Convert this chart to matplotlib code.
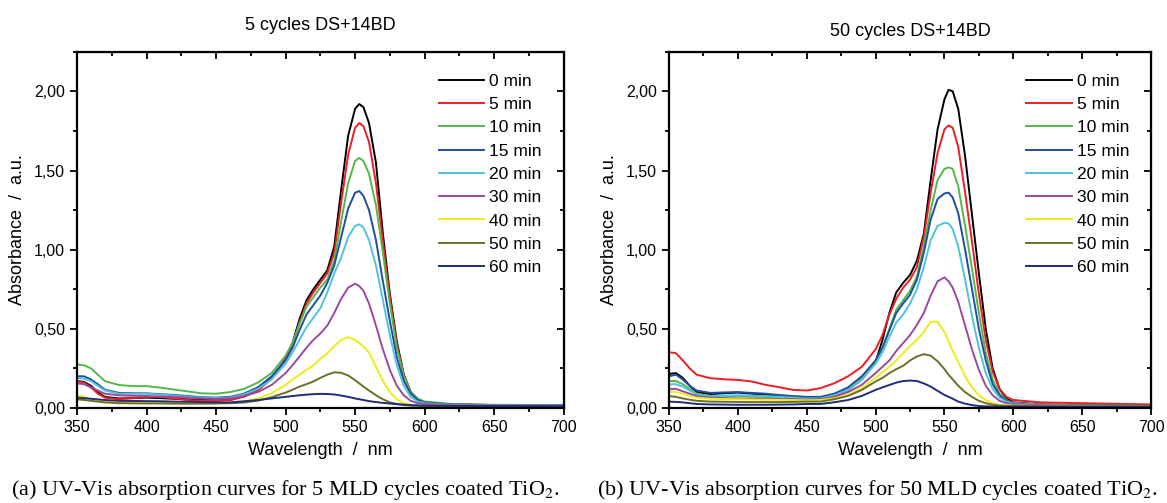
import matplotlib.pyplot as plt
from matplotlib.ticker import MultipleLocator, FuncFormatter

plt.rcParams['font.family'] = ['Liberation Sans', 'DejaVu Sans']
plt.rcParams['mathtext.fontset'] = 'stix'

wavelength = [350, 355, 360, 365, 370, 380, 390, 400, 410, 420, 430, 440, 450,
              460, 470, 480, 490, 500, 505, 510, 515, 520, 525, 530, 535, 540,
              545, 550, 553, 556, 560, 565, 570, 575, 580, 585, 590, 595, 600,
              620, 650, 700]

labels = ["0 min", "5 min", "10 min", "15 min", "20 min", "30 min", "40 min", "50 min", "60 min"]
colors = ["#000000", "#ee1c24", "#52b848", "#1f4ea3", "#4fc3d9", "#9a4a9e", "#ecec18", "#6e6e2a", "#1e2f78"]

# 5 cycles DS+14BD
a5_0 = [0.17, 0.165, 0.14, 0.10, 0.07, 0.06, 0.062, 0.065, 0.062, 0.058, 0.054, 0.05, 0.048,
        0.05, 0.075, 0.114, 0.19, 0.31, 0.41, 0.56, 0.68, 0.75, 0.81, 0.87, 1.02, 1.38,
        1.72, 1.89, 1.92, 1.90, 1.80, 1.55, 1.10, 0.72, 0.42, 0.21, 0.10, 0.05, 0.035,
        0.022, 0.018, 0.015]
a5_5 = [0.17, 0.16, 0.13, 0.09, 0.065, 0.055, 0.062, 0.07, 0.07, 0.06, 0.05, 0.045, 0.045,
        0.05, 0.07, 0.11, 0.185, 0.31, 0.40, 0.54, 0.66, 0.73, 0.79, 0.85, 0.98, 1.30,
        1.60, 1.77, 1.80, 1.78, 1.68, 1.42, 1.05, 0.70, 0.40, 0.21, 0.10, 0.055, 0.035,
        0.022, 0.018, 0.015]
a5_10 = [0.275, 0.27, 0.25, 0.21, 0.17, 0.145, 0.138, 0.138, 0.128, 0.116, 0.104, 0.092, 0.09,
         0.10, 0.12, 0.16, 0.22, 0.33, 0.41, 0.53, 0.64, 0.70, 0.76, 0.81, 0.93, 1.18,
         1.42, 1.56, 1.58, 1.56, 1.48, 1.28, 0.98, 0.66, 0.38, 0.20, 0.10, 0.06, 0.04,
         0.025, 0.02, 0.017]
a5_15 = [0.20, 0.20, 0.18, 0.15, 0.115, 0.095, 0.093, 0.092, 0.087, 0.082, 0.075, 0.068, 0.065,
         0.07, 0.09, 0.13, 0.20, 0.30, 0.38, 0.49, 0.59, 0.65, 0.71, 0.79, 0.90, 1.08,
         1.26, 1.36, 1.37, 1.34, 1.25, 1.06, 0.80, 0.55, 0.32, 0.17, 0.09, 0.05, 0.035,
         0.022, 0.018, 0.015]
a5_20 = [0.19, 0.185, 0.17, 0.14, 0.11, 0.09, 0.09, 0.09, 0.084, 0.078, 0.071, 0.065, 0.062,
         0.065, 0.085, 0.12, 0.18, 0.28, 0.35, 0.43, 0.51, 0.57, 0.63, 0.73, 0.85, 0.95,
         1.08, 1.15, 1.16, 1.14, 1.06, 0.90, 0.68, 0.46, 0.27, 0.14, 0.07, 0.04, 0.03,
         0.02, 0.017, 0.014]
a5_30 = [0.155, 0.15, 0.13, 0.11, 0.09, 0.08, 0.077, 0.075, 0.072, 0.07, 0.065, 0.06, 0.058,
         0.06, 0.075, 0.10, 0.145, 0.22, 0.27, 0.325, 0.38, 0.43, 0.47, 0.52, 0.60, 0.69,
         0.76, 0.785, 0.77, 0.74, 0.66, 0.52, 0.37, 0.24, 0.14, 0.08, 0.045, 0.03, 0.025,
         0.018, 0.015, 0.013]
a5_40 = [0.08, 0.07, 0.055, 0.045, 0.04, 0.035, 0.034, 0.033, 0.032, 0.03, 0.03, 0.03, 0.03,
         0.032, 0.04, 0.06, 0.093, 0.145, 0.18, 0.21, 0.24, 0.27, 0.31, 0.346, 0.39, 0.43,
         0.447, 0.43, 0.41, 0.39, 0.35, 0.26, 0.17, 0.10, 0.055, 0.03, 0.02, 0.017, 0.015,
         0.013, 0.012, 0.011]
a5_50 = [0.055, 0.05, 0.045, 0.04, 0.035, 0.03, 0.029, 0.028, 0.028, 0.027, 0.027, 0.027, 0.028,
         0.03, 0.034, 0.046, 0.068, 0.097, 0.115, 0.135, 0.15, 0.167, 0.19, 0.21, 0.225, 0.222,
         0.205, 0.175, 0.155, 0.135, 0.11, 0.08, 0.055, 0.035, 0.025, 0.018, 0.015, 0.013, 0.012,
         0.011, 0.01, 0.01]
a5_60 = [0.065, 0.062, 0.058, 0.054, 0.05, 0.045, 0.044, 0.043, 0.042, 0.04, 0.039, 0.037, 0.035,
         0.035, 0.042, 0.05, 0.06, 0.07, 0.075, 0.08, 0.084, 0.087, 0.089, 0.088, 0.085, 0.078,
         0.07, 0.06, 0.055, 0.05, 0.043, 0.037, 0.032, 0.028, 0.024, 0.021, 0.018, 0.016, 0.015,
         0.013, 0.012, 0.011]

# 50 cycles DS+14BD
a50_0 = [0.215, 0.22, 0.19, 0.14, 0.10, 0.087, 0.093, 0.097, 0.09, 0.082, 0.074, 0.066, 0.063,
         0.065, 0.08, 0.115, 0.18, 0.29, 0.43, 0.60, 0.73, 0.79, 0.84, 0.93, 1.10, 1.44,
         1.76, 1.95, 2.01, 2.00, 1.89, 1.59, 1.22, 0.85, 0.50, 0.25, 0.12, 0.06, 0.035,
         0.022, 0.018, 0.015]
a50_5 = [0.352, 0.346, 0.30, 0.25, 0.21, 0.188, 0.181, 0.177, 0.167, 0.146, 0.131, 0.114, 0.11,
         0.125, 0.156, 0.20, 0.26, 0.37, 0.46, 0.59, 0.69, 0.76, 0.81, 0.89, 1.08, 1.36,
         1.61, 1.76, 1.785, 1.77, 1.65, 1.36, 1.05, 0.72, 0.43, 0.23, 0.12, 0.07, 0.05,
         0.035, 0.03, 0.022]
a50_10 = [0.17, 0.17, 0.15, 0.12, 0.09, 0.075, 0.075, 0.075, 0.072, 0.07, 0.065, 0.06, 0.058,
          0.06, 0.08, 0.12, 0.19, 0.30, 0.38, 0.50, 0.62, 0.68, 0.74, 0.83, 1.02, 1.25,
          1.44, 1.51, 1.52, 1.51, 1.40, 1.15, 0.88, 0.60, 0.35, 0.18, 0.09, 0.05, 0.03,
          0.02, 0.016, 0.013]
a50_15 = [0.20, 0.21, 0.18, 0.14, 0.11, 0.095, 0.098, 0.10, 0.095, 0.09, 0.082, 0.075, 0.07,
          0.07, 0.09, 0.13, 0.20, 0.30, 0.38, 0.49, 0.60, 0.66, 0.715, 0.81, 0.98, 1.19,
          1.32, 1.355, 1.36, 1.33, 1.23, 1.00, 0.75, 0.50, 0.30, 0.15, 0.08, 0.045, 0.03,
          0.02, 0.016, 0.013]
a50_20 = [0.15, 0.15, 0.135, 0.11, 0.085, 0.075, 0.078, 0.08, 0.078, 0.075, 0.07, 0.065, 0.06,
          0.06, 0.08, 0.115, 0.18, 0.28, 0.35, 0.45, 0.54, 0.59, 0.66, 0.75, 0.89, 1.06,
          1.15, 1.17, 1.165, 1.13, 1.02, 0.81, 0.58, 0.38, 0.22, 0.12, 0.065, 0.04, 0.03,
          0.02, 0.015, 0.012]
a50_30 = [0.12, 0.12, 0.105, 0.09, 0.075, 0.065, 0.062, 0.06, 0.059, 0.058, 0.056, 0.055, 0.052,
          0.055, 0.07, 0.10, 0.146, 0.22, 0.26, 0.30, 0.36, 0.41, 0.46, 0.525, 0.60, 0.71,
          0.80, 0.825, 0.80, 0.76, 0.67, 0.52, 0.37, 0.24, 0.14, 0.08, 0.045, 0.03, 0.025,
          0.018, 0.014, 0.012]
a50_40 = [0.105, 0.10, 0.09, 0.075, 0.065, 0.058, 0.056, 0.055, 0.053, 0.052, 0.051, 0.05, 0.048,
          0.05, 0.061, 0.082, 0.125, 0.19, 0.225, 0.26, 0.30, 0.346, 0.39, 0.43, 0.48, 0.545,
          0.545, 0.48, 0.42, 0.36, 0.29, 0.20, 0.13, 0.08, 0.05, 0.03, 0.02, 0.016, 0.015,
          0.013, 0.012, 0.011]
a50_50 = [0.075, 0.07, 0.06, 0.052, 0.045, 0.04, 0.039, 0.038, 0.037, 0.037, 0.037, 0.038, 0.04,
          0.04, 0.055, 0.076, 0.114, 0.167, 0.19, 0.22, 0.245, 0.266, 0.30, 0.325, 0.34, 0.33,
          0.295, 0.245, 0.21, 0.18, 0.14, 0.10, 0.07, 0.045, 0.03, 0.02, 0.015, 0.013, 0.012,
          0.011, 0.01, 0.01]
a50_60 = [0.04, 0.038, 0.035, 0.03, 0.025, 0.022, 0.021, 0.02, 0.02, 0.02, 0.021, 0.022, 0.025,
          0.025, 0.036, 0.05, 0.076, 0.114, 0.13, 0.145, 0.16, 0.17, 0.173, 0.17, 0.155, 0.135,
          0.108, 0.082, 0.07, 0.058, 0.04, 0.027, 0.018, 0.012, 0.01, 0.009, 0.008, 0.008, 0.008,
          0.008, 0.008, 0.008]

panels = [
    ("5 cycles DS+14BD", [a5_0, a5_5, a5_10, a5_15, a5_20, a5_30, a5_40, a5_50, a5_60],
     "(a) UV-Vis absorption curves for 5 MLD cycles coated TiO$_2$.", 16, 0.244),
    ("50 cycles DS+14BD", [a50_0, a50_5, a50_10, a50_15, a50_20, a50_30, a50_40, a50_50, a50_60],
     "(b) UV-Vis absorption curves for 50 MLD cycles coated TiO$_2$.", 11.5, 0.752),
]

fig = plt.figure(figsize=(11.67, 5.03), dpi=100)
rects = [[0.066, 0.189, 0.417, 0.708], [0.5733, 0.189, 0.413, 0.708]]

comma = FuncFormatter(lambda v, p: f"{v:.2f}".replace(".", ","))

for rect, (title, series, caption, tpad, capx) in zip(rects, panels):
    ax = fig.add_axes(rect)
    for vals, lab, col in zip(series, labels, colors):
        ax.plot(wavelength, vals, color=col, lw=1.4, label=lab, solid_joinstyle="round")
    ax.set_xlim(350, 700)
    ax.set_ylim(0, 2.25)
    ax.xaxis.set_major_locator(MultipleLocator(50))
    ax.xaxis.set_minor_locator(MultipleLocator(25))
    ax.yaxis.set_major_locator(MultipleLocator(0.5))
    ax.yaxis.set_minor_locator(MultipleLocator(0.25))
    ax.yaxis.set_major_formatter(comma)
    ax.tick_params(which="both", direction="out", width=1.3, labelsize=11.5)
    ax.tick_params(which="major", length=5)
    ax.tick_params(which="minor", length=3)
    for s in ax.spines.values():
        s.set_linewidth(1.6)

    top = ax.secondary_xaxis("top")
    top.xaxis.set_major_locator(MultipleLocator(50))
    top.xaxis.set_minor_locator(MultipleLocator(25))
    top.tick_params(which="both", direction="in", width=1.3, labeltop=False)
    top.tick_params(which="major", length=5)
    top.tick_params(which="minor", length=3)
    right = ax.secondary_yaxis("right")
    right.yaxis.set_major_locator(MultipleLocator(0.5))
    right.yaxis.set_minor_locator(MultipleLocator(0.25))
    right.tick_params(which="both", direction="in", width=1.3, labelright=False)
    right.tick_params(which="major", length=5)
    right.tick_params(which="minor", length=3)

    ax.set_xlabel("Wavelength  /  nm", fontsize=13, labelpad=5)
    ax.set_ylabel("Absorbance  /  a.u.", fontsize=13, labelpad=6)
    ax.set_title(title, fontsize=13, pad=tpad)
    ax.legend(loc="upper right", frameon=False, fontsize=12.5, handlelength=2.6,
              handletextpad=0.3, labelspacing=0.47, borderaxespad=0.85,
              borderpad=0.4)

    fig.text(capx, 1 - 495 / 503, caption, ha="center", va="baseline",
             fontsize=16, family="Liberation Serif")

fig.savefig("out.png", dpi=100)
